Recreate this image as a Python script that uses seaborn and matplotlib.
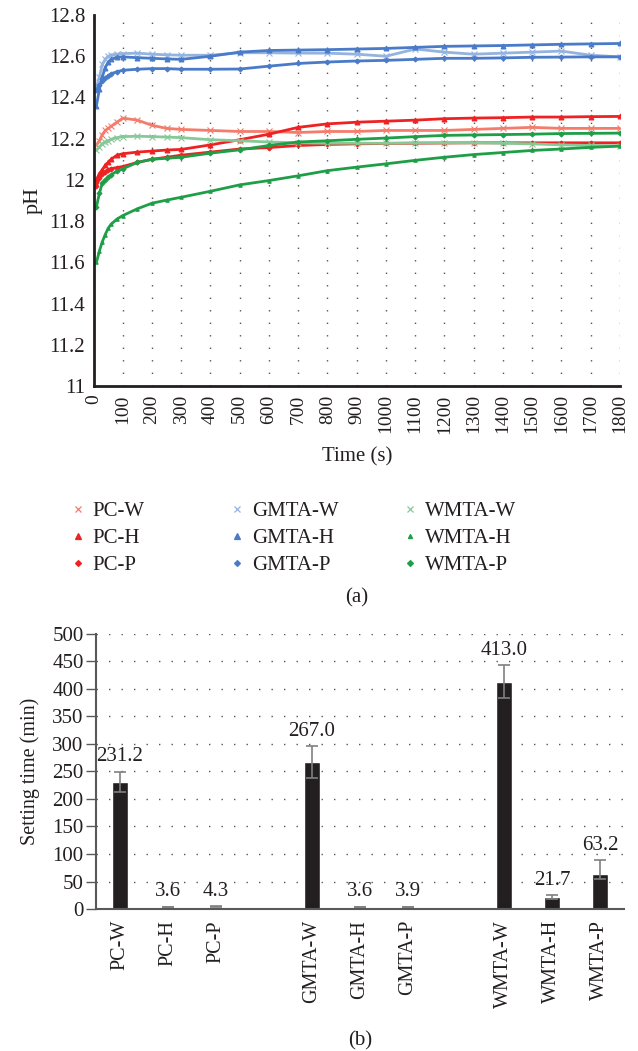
import numpy as np
import pandas as pd
import seaborn as sns
import matplotlib
matplotlib.use("Agg")
import matplotlib.pyplot as plt
from matplotlib.lines import Line2D

# ---- data: pH vs time (panel a) ----
time_s = [10, 20, 30, 40, 50, 60, 80, 100, 150, 200, 250, 300, 400, 500, 600,
          700, 800, 900, 1000, 1100, 1200, 1300, 1400, 1500, 1600, 1700, 1800]

pc_w = [12.17, 12.19, 12.22, 12.24, 12.25, 12.26, 12.28, 12.30, 12.29, 12.265, 12.25, 12.245, 12.24,
        12.235, 12.235, 12.23, 12.235, 12.235, 12.24, 12.24, 12.24, 12.245, 12.25, 12.255, 12.25, 12.25, 12.25]
pc_h = [12.00, 12.03, 12.05, 12.07, 12.085, 12.10, 12.12, 12.127, 12.135, 12.14, 12.145, 12.148, 12.17,
        12.195, 12.222, 12.255, 12.272, 12.28, 12.285, 12.29, 12.297, 12.30, 12.302, 12.305, 12.305, 12.307, 12.308]
pc_p = [11.97, 12.01, 12.03, 12.04, 12.05, 12.055, 12.06, 12.065, 12.085, 12.10, 12.11, 12.12, 12.135,
        12.15, 12.157, 12.167, 12.172, 12.175, 12.177, 12.178, 12.179, 12.18, 12.18, 12.18, 12.18, 12.18, 12.18]
gmta_w = [12.45, 12.50, 12.56, 12.585, 12.60, 12.605, 12.61, 12.613, 12.615, 12.61, 12.607, 12.605, 12.605,
          12.617, 12.617, 12.615, 12.615, 12.61, 12.60, 12.635, 12.62, 12.61, 12.615, 12.62, 12.625, 12.605, 12.597]
gmta_h = [12.36, 12.44, 12.50, 12.545, 12.57, 12.585, 12.595, 12.597, 12.593, 12.59, 12.587, 12.585, 12.60,
          12.62, 12.628, 12.63, 12.632, 12.635, 12.638, 12.643, 12.648, 12.65, 12.652, 12.655, 12.658, 12.66, 12.662]
gmta_p = [12.435, 12.46, 12.48, 12.495, 12.505, 12.515, 12.525, 12.532, 12.537, 12.54, 12.54, 12.537, 12.537,
          12.538, 12.552, 12.565, 12.572, 12.577, 12.58, 12.585, 12.59, 12.59, 12.592, 12.595, 12.596, 12.597, 12.597]
wmta_w = [12.145, 12.16, 12.175, 12.185, 12.19, 12.197, 12.205, 12.21, 12.212, 12.21, 12.208, 12.205, 12.195,
          12.19, 12.184, 12.18, 12.178, 12.178, 12.178, 12.18, 12.18, 12.18, 12.178, 12.175, 12.17, 12.167, 12.165]
wmta_h = [11.60, 11.655, 11.70, 11.735, 11.765, 11.785, 11.81, 11.827, 11.86, 11.887, 11.902, 11.916, 11.945,
          11.976, 11.997, 12.02, 12.045, 12.062, 12.078, 12.095, 12.11, 12.123, 12.133, 12.143, 12.15, 12.158, 12.164]
wmta_p = [11.87, 11.935, 11.985, 12.00, 12.012, 12.025, 12.042, 12.054, 12.085, 12.10, 12.105, 12.11, 12.13,
          12.146, 12.167, 12.184, 12.19, 12.197, 12.203, 12.21, 12.216, 12.218, 12.22, 12.222, 12.225, 12.226, 12.227]

series_names = ["PC-W", "PC-H", "PC-P", "GMTA-W", "GMTA-H", "GMTA-P", "WMTA-W", "WMTA-H", "WMTA-P"]
series_vals = [pc_w, pc_h, pc_p, gmta_w, gmta_h, gmta_p, wmta_w, wmta_h, wmta_p]

# ---- data: setting time (panel b) ----
groups = ["PC-W", "PC-H", "PC-P", "GMTA-W", "GMTA-H", "GMTA-P", "WMTA-W", "WMTA-H", "WMTA-P"]
setting_time = [231.2, 3.6, 4.3, 267.0, 3.6, 3.9, 413.0, 21.7, 63.2]
err_low = [18, 0.5, 0.6, 28.5, 0.5, 0.6, 30, 3, 8]
err_high = [18, 0.5, 0.6, 28.5, 0.5, 0.6, 30, 3, 25]

sns.set_theme(style="white")
plt.rcParams["font.family"] = ["Liberation Serif", "DejaVu Serif"]
plt.rcParams["text.color"] = "#231f20"
plt.rcParams["axes.labelcolor"] = "#231f20"
plt.rcParams["xtick.color"] = "#231f20"
plt.rcParams["ytick.color"] = "#231f20"

styles = {
    "PC-W": ("#f47c6b", "x", 4), "PC-H": ("#ee2222", "^", 3.5), "PC-P": ("#ee2222", "D", 2.5),
    "GMTA-W": ("#95b3df", "x", 4), "GMTA-H": ("#4a7bc8", "^", 3.5), "GMTA-P": ("#4a7bc8", "D", 2.5),
    "WMTA-W": ("#86c997", "x", 4), "WMTA-H": ("#1f9e48", "^", 2.5), "WMTA-P": ("#1f9e48", "D", 2.5),
}

fig = plt.figure(figsize=(6.38, 10.51), dpi=100)
ax1 = fig.add_axes([0.1466, 0.6327, 0.825, 0.353])

for name, vals in zip(series_names, series_vals):
    col, mk, ms = styles[name]
    sns.lineplot(x=time_s, y=vals, ax=ax1, color=col, marker=mk, markersize=ms,
                 markeredgewidth=0.8, markeredgecolor=col, linewidth=2.0, legend=False)

ax1.set_xlim(0, 1800)
ax1.set_ylim(11, 12.8)
ax1.set_xticks(np.arange(0, 1801, 100))
ax1.set_yticks(np.arange(11, 12.81, 0.2))
ax1.set_yticklabels(["11", "11.2", "11.4", "11.6", "11.8", "12", "12.2", "12.4", "12.6", "12.8"])
ax1.tick_params(axis="x", labelrotation=90, labelsize=14, length=3, width=1, direction="out", pad=3)
ax1.tick_params(axis="y", labelsize=15, length=3, width=1, direction="out", pad=3)
ax1.xaxis.grid(True, color="#555555", linestyle=(0, (1, 8)), linewidth=1.0)
ax1.yaxis.grid(False)
for s in ["top", "right"]:
    ax1.spines[s].set_visible(False)
for s in ["left", "bottom"]:
    ax1.spines[s].set_color("#231f20")
    ax1.spines[s].set_linewidth(2)
ax1.set_xlabel("Time (s)", fontsize=15, labelpad=10)
ax1.set_ylabel("pH", fontsize=16, labelpad=4)

# three one-column legends, one per material (marker-only proxies)
proxies = []
for name in series_names:
    col, mk, ms = styles[name]
    proxies.append(Line2D([], [], linestyle="none", color=col, marker=mk, markersize=ms + 0.5,
                          markeredgewidth=0.9, markeredgecolor=col))
col_anchor = [-0.041, 0.261, 0.590]
for k in range(3):
    lg = ax1.legend(proxies[3 * k:3 * k + 3], series_names[3 * k:3 * k + 3], loc="upper left",
                    bbox_to_anchor=(col_anchor[k], -0.312), frameon=False, fontsize=15,
                    handlelength=0.6, handletextpad=0.4, labelspacing=0.35,
                    borderpad=0, borderaxespad=0)
    if k < 2:
        ax1.add_artist(lg)
ax1.text(0.5, -0.57, "(a)", transform=ax1.transAxes, ha="center", va="center", fontsize=15)

# ---- panel b ----
ax2 = fig.add_axes([0.1505, 0.1351, 0.8275, 0.2617])
order = ["PC-W", "PC-H", "PC-P", " ", "GMTA-W", "GMTA-H", "GMTA-P", "  ", "WMTA-W", "WMTA-H", "WMTA-P"]
df_b = pd.DataFrame({"group": groups, "time": setting_time})
sns.barplot(data=df_b, x="group", y="time", order=order, color="#231f20", width=0.34,
            saturation=1, errorbar=None, ax=ax2)

xpos = [order.index(g) for g in groups]
ax2.errorbar(xpos, setting_time, yerr=[err_low, err_high], fmt="none", ecolor="#808080",
             elinewidth=1.2, capsize=4, capthick=1.2)
for x, v, e in zip(xpos, setting_time, err_high):
    ax2.annotate(f"{v:.1f}", (x, v + e), xytext=(0, 4), textcoords="offset points",
                 ha="center", va="bottom", fontsize=15)

ax2.set_xlim(-0.5, len(order) - 0.5)
ax2.set_ylim(0, 500)
ax2.set_yticks(np.arange(0, 501, 50))
ax2.yaxis.grid(True, color="#555555", linestyle=(0, (1, 8)), linewidth=1.0)
ax2.xaxis.grid(False)
ax2.tick_params(axis="y", labelsize=15, length=7, width=1, color="#595959", direction="out", pad=2, left=True)
ax2.tick_params(axis="x", labelsize=14.5, labelrotation=90, length=0, pad=8)
for s in ["top", "right"]:
    ax2.spines[s].set_visible(False)
for s in ["left", "bottom"]:
    ax2.spines[s].set_color("#595959")
    ax2.spines[s].set_linewidth(1.5)
ax2.set_xlabel("")
ax2.set_ylabel("Setting time (min)", fontsize=14.5, labelpad=9)
ax2.text(0.5, -0.48, "(b)", transform=ax2.transAxes, ha="center", va="center", fontsize=15)

fig.savefig("out.png", dpi=100)
